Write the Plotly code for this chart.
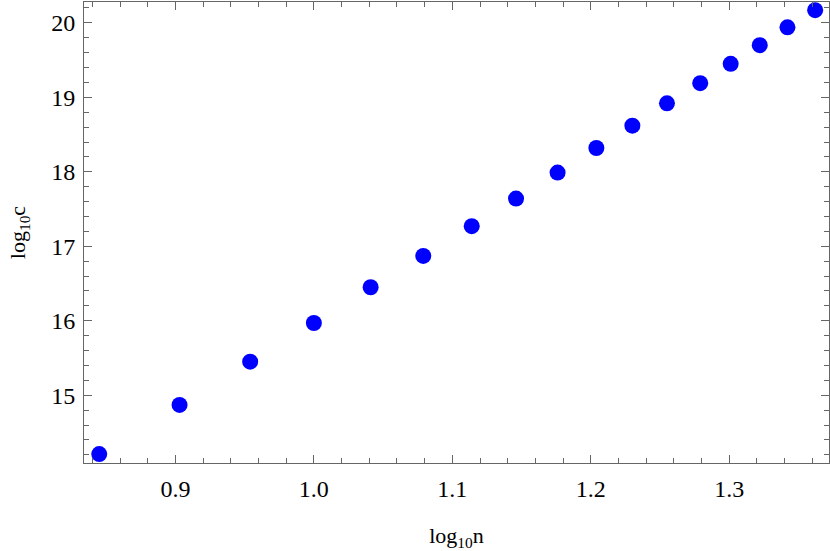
import plotly.graph_objects as go

log_n = [0.845, 0.903, 0.954, 1.000, 1.041, 1.079, 1.114, 1.146, 1.176,
         1.204, 1.230, 1.255, 1.279, 1.301, 1.322, 1.342, 1.362]
log_c = [14.21, 14.87, 15.45, 15.97, 16.45, 16.87, 17.27, 17.64, 17.99,
         18.32, 18.62, 18.92, 19.19, 19.45, 19.70, 19.94, 20.17]

x_ticks = [0.9, 1.0, 1.1, 1.2, 1.3]
x_labels = ["0.9", "1.0", "1.1", "1.2", "1.3"]
y_ticks = [15, 16, 17, 18, 19, 20]

font_family = "Liberation Serif"
axis_color = "#666666"

fig = go.Figure()
fig.add_trace(go.Scatter(
    x=log_n,
    y=log_c,
    mode="markers",
    marker=dict(color="#0000FF", size=16, line_width=0),
    showlegend=False,
))

axis_common = dict(
    showgrid=False,
    zeroline=False,
    showline=True,
    linecolor=axis_color,
    linewidth=1,
    mirror="allticks",
    ticks="inside",
    ticklen=8,
    tickwidth=1,
    tickcolor=axis_color,
    tickfont=dict(family=font_family, size=24, color="black"),
)

fig.update_xaxes(
    **axis_common,
    range=[0.834, 1.372],
    tickvals=x_ticks,
    ticktext=x_labels,
    ticklabelstandoff=4,
    minor=dict(ticks="inside", ticklen=5, dtick=0.02, tick0=0.9, tickcolor=axis_color),
    title=dict(text="log<sub>10</sub>n", font=dict(family=font_family, size=22, color="black"), standoff=30),
)
fig.update_yaxes(
    **axis_common,
    range=[14.09, 20.28],
    tickvals=y_ticks,
    ticklabelstandoff=3,
    minor=dict(ticks="inside", ticklen=5, dtick=0.2, tick0=15, tickcolor=axis_color),
    title=dict(text="log<sub>10</sub>c", font=dict(family=font_family, size=22, color="black"), standoff=19),
)

fig.update_layout(
    width=830,
    height=551,
    paper_bgcolor="white",
    plot_bgcolor="white",
    margin=dict(l=84, r=1, t=2, b=88, autoexpand=False),
)

fig.write_html(
    "out.html",
    config={"displayModeBar": False},
    post_script="document.body.style.margin='0';",
)
